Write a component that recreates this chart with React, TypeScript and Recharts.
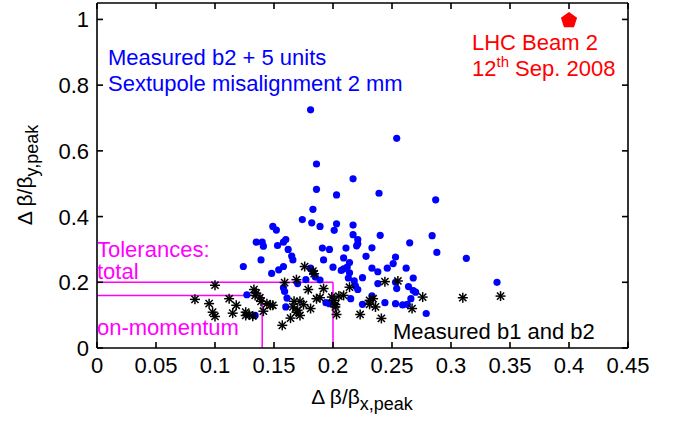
import React from "react";
import { ScatterChart, Scatter, XAxis, YAxis, ReferenceLine } from "recharts";

const X_TICKS = [0, 0.05, 0.1, 0.15, 0.2, 0.25, 0.3, 0.35, 0.4, 0.45];
const Y_TICKS = [0, 0.2, 0.4, 0.6, 0.8, 1];
const X_MAX = 0.45;
const Y_MAX = 1.05;

// simulated: measured b2 + 5 units, sextupole misalignment 2 mm
const SIM_POINTS = [
  { x: 0.181, y: 0.725 }, { x: 0.254, y: 0.638 }, { x: 0.186, y: 0.56 }, { x: 0.217, y: 0.515 },
  { x: 0.186, y: 0.483 }, { x: 0.203, y: 0.466 }, { x: 0.239, y: 0.471 }, { x: 0.287, y: 0.451 },
  { x: 0.183, y: 0.422 }, { x: 0.174, y: 0.391 }, { x: 0.182, y: 0.381 }, { x: 0.189, y: 0.37 },
  { x: 0.203, y: 0.378 }, { x: 0.217, y: 0.374 }, { x: 0.149, y: 0.37 }, { x: 0.152, y: 0.359 },
  { x: 0.201, y: 0.358 }, { x: 0.135, y: 0.322 }, { x: 0.14, y: 0.322 }, { x: 0.141, y: 0.31 },
  { x: 0.158, y: 0.322 }, { x: 0.16, y: 0.33 }, { x: 0.153, y: 0.312 }, { x: 0.217, y: 0.345 },
  { x: 0.221, y: 0.33 }, { x: 0.221, y: 0.317 }, { x: 0.22, y: 0.311 }, { x: 0.24, y: 0.343 },
  { x: 0.162, y: 0.3 }, { x: 0.165, y: 0.28 }, { x: 0.166, y: 0.268 }, { x: 0.191, y: 0.304 },
  { x: 0.197, y: 0.3 }, { x: 0.211, y: 0.304 }, { x: 0.233, y: 0.305 }, { x: 0.139, y: 0.268 },
  { x: 0.124, y: 0.248 }, { x: 0.158, y: 0.248 }, { x: 0.154, y: 0.238 }, { x: 0.148, y: 0.227 },
  { x: 0.192, y: 0.268 }, { x: 0.209, y: 0.274 }, { x: 0.214, y: 0.26 }, { x: 0.212, y: 0.246 },
  { x: 0.209, y: 0.241 }, { x: 0.207, y: 0.236 }, { x: 0.2, y: 0.246 }, { x: 0.228, y: 0.279 },
  { x: 0.181, y: 0.243 }, { x: 0.183, y: 0.231 }, { x: 0.185, y: 0.216 }, { x: 0.214, y: 0.229 },
  { x: 0.213, y: 0.213 }, { x: 0.225, y: 0.214 }, { x: 0.233, y: 0.243 }, { x: 0.238, y: 0.232 },
  { x: 0.246, y: 0.243 }, { x: 0.251, y: 0.257 }, { x: 0.253, y: 0.277 }, { x: 0.262, y: 0.243 },
  { x: 0.265, y: 0.32 }, { x: 0.284, y: 0.342 }, { x: 0.288, y: 0.291 }, { x: 0.313, y: 0.273 },
  { x: 0.339, y: 0.2 }, { x: 0.17, y: 0.196 }, { x: 0.177, y: 0.208 }, { x: 0.189, y: 0.207 },
  { x: 0.158, y: 0.183 }, { x: 0.159, y: 0.172 }, { x: 0.218, y: 0.204 }, { x: 0.219, y: 0.189 },
  { x: 0.221, y: 0.178 }, { x: 0.238, y: 0.196 }, { x: 0.253, y: 0.2 }, { x: 0.254, y: 0.181 },
  { x: 0.264, y: 0.187 }, { x: 0.268, y: 0.213 }, { x: 0.268, y: 0.175 }, { x: 0.27, y: 0.17 },
  { x: 0.127, y: 0.162 }, { x: 0.161, y: 0.152 }, { x: 0.215, y: 0.15 }, { x: 0.233, y: 0.159 },
  { x: 0.244, y: 0.138 }, { x: 0.253, y: 0.135 }, { x: 0.259, y: 0.131 }, { x: 0.263, y: 0.133 },
  { x: 0.266, y: 0.15 }, { x: 0.225, y: 0.133 }, { x: 0.16, y: 0.125 }, { x: 0.194, y: 0.138 },
  { x: 0.197, y: 0.135 }, { x: 0.134, y: 0.099 }, { x: 0.279, y: 0.105 },
];

// measured b1 and b2
const MEAS_POINTS = [
  { x: 0.083, y: 0.148 }, { x: 0.095, y: 0.135 }, { x: 0.098, y: 0.109 }, { x: 0.1, y: 0.096 },
  { x: 0.1, y: 0.191 }, { x: 0.112, y: 0.15 }, { x: 0.118, y: 0.13 }, { x: 0.115, y: 0.106 },
  { x: 0.126, y: 0.109 }, { x: 0.126, y: 0.099 }, { x: 0.129, y: 0.101 }, { x: 0.132, y: 0.097 },
  { x: 0.133, y: 0.178 }, { x: 0.135, y: 0.167 }, { x: 0.134, y: 0.16 }, { x: 0.138, y: 0.153 },
  { x: 0.139, y: 0.142 }, { x: 0.144, y: 0.135 }, { x: 0.147, y: 0.13 }, { x: 0.149, y: 0.13 },
  { x: 0.141, y: 0.112 }, { x: 0.159, y: 0.199 }, { x: 0.169, y: 0.208 }, { x: 0.176, y: 0.248 },
  { x: 0.183, y: 0.234 }, { x: 0.184, y: 0.226 }, { x: 0.179, y: 0.178 }, { x: 0.192, y: 0.181 },
  { x: 0.167, y: 0.142 }, { x: 0.172, y: 0.142 }, { x: 0.166, y: 0.125 }, { x: 0.169, y: 0.109 },
  { x: 0.172, y: 0.099 }, { x: 0.164, y: 0.091 }, { x: 0.157, y: 0.069 }, { x: 0.181, y: 0.12 },
  { x: 0.186, y: 0.15 }, { x: 0.189, y: 0.153 }, { x: 0.199, y: 0.155 }, { x: 0.201, y: 0.145 },
  { x: 0.202, y: 0.132 }, { x: 0.202, y: 0.125 }, { x: 0.203, y: 0.102 }, { x: 0.205, y: 0.158 },
  { x: 0.209, y: 0.16 }, { x: 0.214, y: 0.185 }, { x: 0.223, y: 0.102 }, { x: 0.231, y: 0.145 },
  { x: 0.234, y: 0.15 }, { x: 0.231, y: 0.133 }, { x: 0.236, y: 0.125 }, { x: 0.241, y: 0.09 },
  { x: 0.244, y: 0.202 }, { x: 0.255, y: 0.204 }, { x: 0.267, y: 0.12 }, { x: 0.276, y: 0.155 },
  { x: 0.31, y: 0.153 }, { x: 0.342, y: 0.158 }, { x: 0.175, y: 0.132 }, { x: 0.17, y: 0.115 },
];

const LHC_BEAM2 = [{ x: 0.4, y: 1.0 }];

// tolerance boxes (x limit, y limit)
const TOL_TOTAL = { x: 0.2, y: 0.2 };
const TOL_ONMOM = { x: 0.14, y: 0.16 };

const FONT = "'Liberation Sans', Arial, Helvetica, sans-serif";
const FS = 22;
const MAGENTA = "#ff00ff";

const W = 683;
const H = 421;
// plot box in page pixels
const PL = 97;
const PT = 3;
const PR = 628;
const PB = 348;

const fmt = (v: number) => String(v);

const BottomTick = (p: any) => (
  <text x={p.x} y={p.y + 25} textAnchor="middle" fontSize={FS} fontFamily={FONT} fill="#000">
    {fmt(p.payload.value)}
  </text>
);
const LeftTick = (p: any) => (
  <text x={p.x - 8} y={p.y + 8} textAnchor="end" fontSize={FS} fontFamily={FONT} fill="#000">
    {fmt(p.payload.value)}
  </text>
);

const Dot = (p: any) => <circle cx={p.cx} cy={p.cy} r={3.6} fill="#0000ff" />;

const Star = (p: any) => {
  const r = 5;
  const d = r * 0.72;
  const { cx, cy } = p;
  return (
    <g stroke="#000" strokeWidth={1.5}>
      <line x1={cx - r} x2={cx + r} y1={cy} y2={cy} />
      <line x1={cx} x2={cx} y1={cy - r} y2={cy + r} />
      <line x1={cx - d} x2={cx + d} y1={cy - d} y2={cy + d} />
      <line x1={cx - d} x2={cx + d} y1={cy + d} y2={cy - d} />
    </g>
  );
};

const Pentagon = (p: any) => {
  const r = 8.5;
  const pts = [0, 1, 2, 3, 4]
    .map((i) => {
      const a = -Math.PI / 2 + (i * 2 * Math.PI) / 5;
      return `${p.cx + r * Math.cos(a)},${p.cy + 1 + r * Math.sin(a)}`;
    })
    .join(" ");
  return <polygon points={pts} fill="#ff0000" />;
};

// MATLAB-style frame: box with inward ticks on all four sides
function Frame() {
  const tx = (v: number) => PL + (v / X_MAX) * (PR - PL);
  const ty = (v: number) => PB - (v / Y_MAX) * (PB - PT);
  const s = { stroke: "#000", strokeWidth: 1.6 };
  return (
    <g>
      <line {...s} x1={PL} x2={PR} y1={PT} y2={PT} />
      <line {...s} x1={PR} x2={PR} y1={PT} y2={PB} />
      <line {...s} x1={PL} x2={PR} y1={PB} y2={PB} />
      <line {...s} x1={PL} x2={PL} y1={PT} y2={PB} />
      {X_TICKS.map((t) => (
        <g key={`x${t}`}>
          <line {...s} x1={tx(t)} x2={tx(t)} y1={PB} y2={PB - 6} />
          <line {...s} x1={tx(t)} x2={tx(t)} y1={PT} y2={PT + 6} />
        </g>
      ))}
      {Y_TICKS.map((t) => (
        <g key={`y${t}`}>
          <line {...s} x1={PL} x2={PL + 6} y1={ty(t)} y2={ty(t)} />
          <line {...s} x1={PR} x2={PR - 6} y1={ty(t)} y2={ty(t)} />
        </g>
      ))}
    </g>
  );
}

export default function App() {
  const ids = { xAxisId: "b", yAxisId: "l" };
  const ref = { ...ids, ifOverflow: "visible" as const, stroke: MAGENTA, strokeWidth: 1.5 };
  return (
    <div style={{ position: "absolute", left: 0, top: 0, width: W, height: H, background: "#fff" }}>
      <ScatterChart width={W} height={H} margin={{ top: PT, right: W - PR, bottom: 0, left: 0 }}>
        <XAxis
          xAxisId="b"
          type="number"
          dataKey="x"
          domain={[0, X_MAX]}
          ticks={X_TICKS}
          height={H - PB}
          tickSize={0}
          tickMargin={0}
          tick={BottomTick}
          axisLine={false}
          tickLine={false}
          allowDataOverflow
        />
        <YAxis
          yAxisId="l"
          type="number"
          dataKey="y"
          domain={[0, Y_MAX]}
          ticks={Y_TICKS}
          width={PL}
          tickSize={0}
          tickMargin={0}
          tick={LeftTick}
          axisLine={false}
          tickLine={false}
          allowDataOverflow
        />
        <ReferenceLine {...ref} segment={[{ x: 0, y: TOL_TOTAL.y }, { x: TOL_TOTAL.x, y: TOL_TOTAL.y }]} />
        <ReferenceLine {...ref} segment={[{ x: TOL_TOTAL.x, y: 0 }, { x: TOL_TOTAL.x, y: TOL_TOTAL.y }]} />
        <ReferenceLine {...ref} segment={[{ x: 0, y: TOL_ONMOM.y }, { x: TOL_ONMOM.x, y: TOL_ONMOM.y }]} />
        <ReferenceLine {...ref} segment={[{ x: TOL_ONMOM.x, y: 0 }, { x: TOL_ONMOM.x, y: TOL_ONMOM.y }]} />
        <Scatter {...ids} data={SIM_POINTS} shape={Dot} isAnimationActive={false} />
        <Scatter {...ids} data={MEAS_POINTS} shape={Star} isAnimationActive={false} />
        <Scatter {...ids} data={LHC_BEAM2} shape={Pentagon} isAnimationActive={false} />
      </ScatterChart>
      <svg
        width={W}
        height={H}
        style={{ position: "absolute", left: 0, top: 0, pointerEvents: "none" }}
        fontFamily={FONT}
        fontSize={FS}
      >
        <Frame />
        <text x={108} y={65} fill="#0000ff">Measured b2 + 5 units</text>
        <text x={108} y={91} fill="#0000ff">Sextupole misalignment 2 mm</text>
        <text x={472} y={50} fill="#ff0000">LHC Beam 2</text>
        <text x={472} y={76} fill="#ff0000">
          12<tspan fontSize={15} dy={-9}>th</tspan>
          <tspan dy={9}> Sep. 2008</tspan>
        </text>
        <text x={97} y={257} fill={MAGENTA}>Tolerances:</text>
        <text x={97} y={279} fill={MAGENTA}>total</text>
        <text x={97} y={335} fill={MAGENTA}>on-momentum</text>
        <text x={393} y={339} fill="#000">Measured b1 and b2</text>
        <text x={362} y={404} textAnchor="middle" fill="#000" fontSize={21}>
          Δ β/β<tspan fontSize={18} dy={6}>x,peak</tspan>
        </text>
        <text x={32} y={175} transform="rotate(-90, 32, 175)" textAnchor="middle" fill="#000" fontSize={21}>
          Δ β/β<tspan fontSize={18} dy={6}>y,peak</tspan>
        </text>
      </svg>
    </div>
  );
}
